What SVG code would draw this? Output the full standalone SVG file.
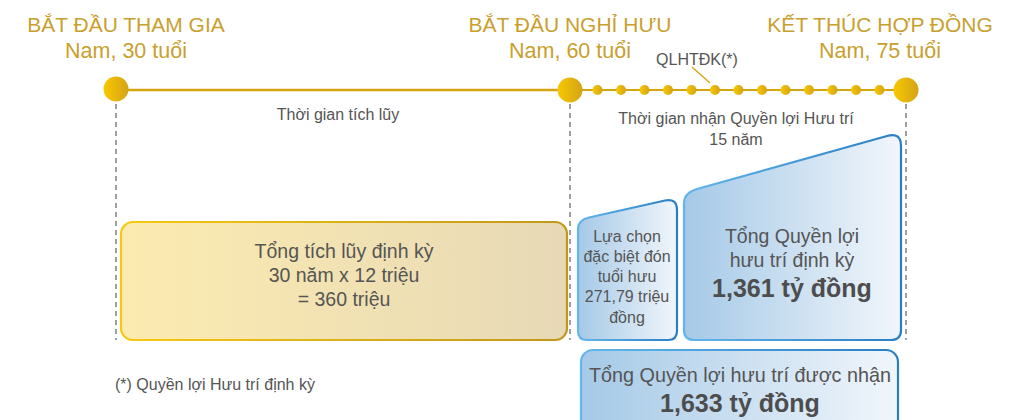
<svg xmlns="http://www.w3.org/2000/svg" width="1016" height="420" viewBox="0 0 1016 420">
<defs>
<linearGradient id="gDot" x1="0" y1="0" x2="1" y2="0"><stop offset="0" stop-color="#F8C800"/><stop offset="1" stop-color="#D4A317"/></linearGradient>
<linearGradient id="gYel" x1="0" y1="0" x2="1" y2="0"><stop offset="0" stop-color="#FCEBB0"/><stop offset="1" stop-color="#E7D9B6"/></linearGradient>
<linearGradient id="gYelS" x1="0" y1="0" x2="1" y2="0"><stop offset="0" stop-color="#F7C812"/><stop offset="1" stop-color="#C1971C"/></linearGradient>
<linearGradient id="gBlue" x1="0" y1="0" x2="1" y2="0"><stop offset="0" stop-color="#A5C9E7"/><stop offset="1" stop-color="#F1F6FB"/></linearGradient>
<linearGradient id="gBlueS" x1="0" y1="0" x2="1" y2="0"><stop offset="0" stop-color="#63B6EC"/><stop offset="1" stop-color="#2A7FC4"/></linearGradient>
</defs>
<style>
.t{font-family:"Liberation Sans",Arial,sans-serif;text-anchor:middle}
.h{fill:#C9A02E;font-size:21px}
.s{fill:#C9A02E;font-size:21.5px}
.g{fill:#555;font-size:16px}
.b{fill:#555;font-size:19.5px}
.bb{fill:#4d4d4d;font-size:25px;font-weight:bold}
.dash{stroke:#777;stroke-width:1.4;stroke-dasharray:5,4;fill:none}
.big{fill:url(#gDot)}
.sm{fill:url(#gDot)}
</style>
<rect width="1016" height="420" fill="#fff"/>
<g id="connectors">
<line x1="116" y1="90" x2="570" y2="90" stroke="#D4A50F" stroke-width="2.6"/>
<line x1="570" y1="90" x2="906" y2="90" stroke="#D4A50F" stroke-width="2"/>
<line x1="116" y1="104" x2="116" y2="340" class="dash"/>
<line x1="570" y1="104" x2="570" y2="340" class="dash"/>
<line x1="906" y1="104" x2="906" y2="340" class="dash"/>
<line x1="692" y1="67" x2="710" y2="83" stroke="#D4A50F" stroke-width="1.3"/>
</g>
<g id="headers">
<text class="t h" x="126" y="32">BẮT ĐẦU THAM GIA</text>
<text class="t s" x="126" y="58">Nam, 30 tuổi</text>
<text class="t h" x="570" y="32">BẮT ĐẦU NGHỈ HƯU</text>
<text class="t s" x="570" y="58">Nam, 60 tuổi</text>
<text class="t h" x="880" y="32">KẾT THÚC HỢP ĐỒNG</text>
<text class="t s" x="880" y="58">Nam, 75 tuổi</text>
<text class="t g" x="697" y="65">QLHTĐK(*)</text>
<text class="t g" x="338" y="120">Thời gian tích lũy</text>
<text class="t g" x="736" y="124">Thời gian nhận Quyền lợi Hưu trí</text>
<text class="t g" x="736" y="145">15 năm</text>
</g>
<g id="timeline-dots">
<circle class="big" cx="116" cy="89" r="12.5"/>
<circle class="big" cx="570" cy="90" r="12.5"/>
<circle class="big" cx="906" cy="90" r="12.5"/>
<circle class="sm" cx="597.5" cy="90" r="5"/>
<circle class="sm" cx="621" cy="90" r="5"/>
<circle class="sm" cx="644.5" cy="90" r="5"/>
<circle class="sm" cx="668" cy="90" r="5"/>
<circle class="sm" cx="691.5" cy="90" r="5"/>
<circle class="sm" cx="715" cy="90" r="5"/>
<circle class="sm" cx="738.5" cy="90" r="5"/>
<circle class="sm" cx="762" cy="90" r="5"/>
<circle class="sm" cx="785.5" cy="90" r="5"/>
<circle class="sm" cx="809" cy="90" r="5"/>
<circle class="sm" cx="832.5" cy="90" r="5"/>
<circle class="sm" cx="856" cy="90" r="5"/>
<circle class="sm" cx="879.5" cy="90" r="5"/>
</g>
<g id="accumulation">
<rect x="121" y="222" width="446" height="118" rx="12" fill="url(#gYel)" stroke="url(#gYelS)" stroke-width="2.2"/>
<text class="t b" x="344" y="258">Tổng tích lũy định kỳ</text>
<text class="t b" x="344" y="282">30 năm x 12 triệu</text>
<text class="t b" x="344" y="306">= 360 triệu</text>
</g>
<g id="special">
<path d="M 589 217.5 L 665 200.5 Q 677 198 677 210 L 677 331 Q 677 340 668 340 L 587 340 Q 578 340 578 331 L 578 229 Q 578 220 589 217.5 Z" fill="url(#gBlue)" stroke="url(#gBlueS)" stroke-width="2.2"/>
<text class="t g" x="627" y="242">Lựa chọn</text>
<text class="t g" x="627" y="262">đặc biệt đón</text>
<text class="t g" x="627" y="282">tuổi hưu</text>
<text class="t g" x="627" y="302">271,79 triệu</text>
<text class="t g" x="627" y="323">đồng</text>
</g>
<g id="periodic">
<path d="M 697 189 L 887 136 Q 901 132 901 146 L 901 330 Q 901 340 891 340 L 694 340 Q 684 340 684 330 L 684 203 Q 684 193 697 189 Z" fill="url(#gBlue)" stroke="url(#gBlueS)" stroke-width="2.2"/>
<text class="t b" x="792" y="243">Tổng Quyền lợi</text>
<text class="t b" x="792" y="267">hưu trí định kỳ</text>
<text class="t bb" x="792" y="297">1,361 tỷ đồng</text>
</g>
<g id="total">
<rect x="581" y="350" width="317" height="90" rx="12" fill="url(#gBlue)" stroke="url(#gBlueS)" stroke-width="2.2"/>
<text class="t" x="740" y="382" fill="#555" font-size="19.8">Tổng Quyền lợi hưu trí được nhận</text>
<text class="t bb" x="740" y="412">1,633 tỷ đồng</text>
</g>
<g id="footnote">
<text x="115" y="390" fill="#555" font-size="16" font-family="Liberation Sans, Arial, sans-serif">(*) Quyền lợi Hưu trí định kỳ</text>
</g>
</svg>
